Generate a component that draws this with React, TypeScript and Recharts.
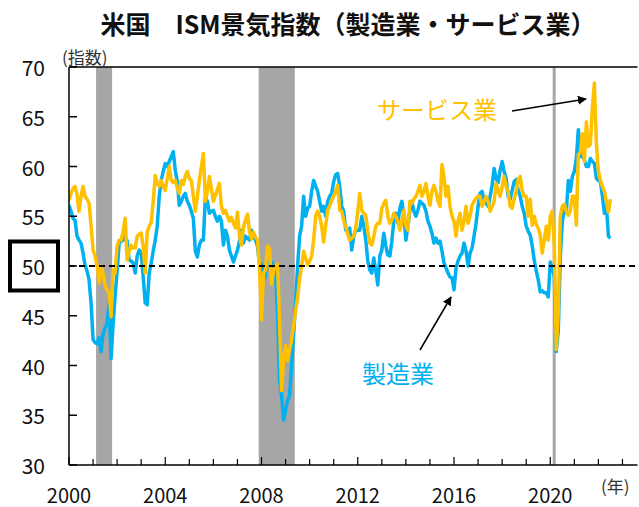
import React from "react";
import {
  LineChart, Line, XAxis, YAxis, ReferenceArea, ReferenceLine,
} from "recharts";

// Monthly index values, Jan 2000 .. Jul 2022 (one row per year)
const manufacturing = [
  56.1, 55.5, 54.8, 54.6, 53.0, 52.6, 52.3, 51.3, 50.1, 49.5, 48.6, 46.3,
  42.6, 42.3, 42.2, 42.8, 41.4, 43.2, 43.8, 44.2, 46.2, 40.7, 44.2, 47.0,
  49.5, 52.3, 52.5, 52.6, 53.0, 52.5, 50.6, 50.5, 50.3, 49.3, 51.0, 51.6,
  51.3, 48.9, 46.3, 46.1, 49.3, 50.3, 51.5, 52.6, 54.0, 57.0, 58.6, 59.5,
  60.3, 60.0, 60.5, 61.0, 61.5, 59.6, 58.5, 56.1, 56.5, 57.0, 57.3, 56.5,
  56.1, 55.5, 54.8, 51.5, 50.9, 52.1, 52.6, 52.6, 56.9, 56.5, 55.3, 55.5,
  55.6, 55.0, 54.5, 55.0, 54.5, 52.1, 53.6, 53.0, 51.6, 51.0, 50.4, 51.0,
  51.6, 52.5, 53.6, 52.3, 53.0, 52.8, 52.6, 53.6, 53.0, 52.6, 52.0, 50.2,
  50.2, 48.6, 49.0, 50.8, 50.5, 50.4, 50.0, 49.5, 45.2, 38.5, 37.0, 34.5,
  35.5, 36.5, 37.0, 40.0, 43.0, 46.3, 50.0, 53.0, 54.0, 57.0, 55.0, 55.8,
  56.0, 57.5, 58.6, 58.0, 57.5, 56.5, 55.5, 56.0, 55.0, 56.5, 57.0, 57.3,
  58.5, 59.2, 59.3, 58.0, 56.0, 55.5, 53.6, 53.5, 53.8, 51.6, 53.0, 53.6,
  53.6, 53.6, 55.0, 54.0, 52.6, 50.5, 49.6, 49.3, 50.8, 49.5, 48.1, 51.0,
  51.6, 53.3, 52.0, 51.1, 51.0, 52.5, 54.6, 55.3, 54.3, 55.8, 56.5, 55.0,
  52.6, 54.0, 55.6, 56.5, 55.5, 55.0, 55.6, 56.5, 56.3, 56.1, 55.5, 54.5,
  54.0, 53.3, 52.3, 52.8, 52.3, 52.5, 51.5, 50.3, 49.8, 49.3, 48.9, 48.8,
  47.6, 49.8, 50.5, 51.0, 51.3, 52.3, 51.5, 50.0, 51.3, 51.8, 53.0, 54.3,
  56.0, 57.3, 57.5, 56.6, 56.3, 56.0, 57.0, 58.1, 59.8, 58.8, 58.4, 59.6,
  60.5, 59.5, 58.8, 57.0, 56.7, 57.6, 58.5, 58.7, 57.6, 57.0, 56.0, 55.3,
  54.0, 53.5, 53.1, 52.0, 50.6, 49.5, 48.6, 47.4, 47.5, 47.3, 47.3, 46.9,
  50.4, 49.8, 49.0, 41.4, 43.5, 51.0, 54.5, 55.6, 55.4, 58.6, 57.5, 59.0,
  59.5, 60.8, 63.7, 61.0, 61.0, 60.7, 60.0, 60.0, 60.8, 60.5, 60.3, 58.8,
  58.6, 58.5, 57.0, 55.3, 56.0, 53.0, 52.8,
];

const services = [
  56.6, 57.3, 57.8, 58.0, 57.2, 55.5, 57.0, 58.0, 57.0, 56.7, 56.3, 54.0,
  51.6, 51.0, 50.0, 48.3, 50.0, 49.2, 48.0, 47.6, 47.4, 44.9, 49.6, 49.3,
  52.0, 52.6, 52.6, 53.5, 54.8, 50.6, 51.5, 52.1, 51.8, 51.8, 53.0, 53.2,
  53.3, 52.0, 49.3, 53.4, 54.0, 54.4, 56.5, 59.1, 58.3, 58.0, 58.6, 58.0,
  57.6, 58.8, 60.0, 58.6, 58.4, 58.6, 57.8, 57.3, 58.6, 58.2, 59.0, 59.5,
  58.8, 58.6, 57.0, 55.5, 57.0, 58.6, 60.0, 61.3, 56.5, 57.5, 59.0, 57.8,
  56.5, 57.1, 57.7, 58.3, 56.0, 55.3, 55.6, 55.0, 54.5, 54.9, 54.3, 53.8,
  55.4, 53.0, 52.1, 53.9, 54.6, 55.2, 53.5, 52.7, 53.4, 52.9, 52.6, 49.9,
  44.6, 49.3, 49.6, 52.0, 51.7, 48.2, 49.5, 50.0, 50.2, 44.4, 37.5, 40.6,
  42.0, 40.5, 41.6, 42.5, 44.0, 45.5, 46.8, 48.7, 50.0, 51.5, 50.8, 50.1,
  50.5, 51.0, 52.6, 55.0, 55.5, 55.0, 54.0, 52.4, 54.0, 55.6, 56.0, 56.6,
  57.0, 57.5, 58.1, 55.6, 55.5, 54.5, 54.0, 53.2, 52.6, 52.8, 53.0, 53.8,
  55.5, 57.3, 55.6, 55.3, 55.1, 53.5, 52.3, 52.1, 53.0, 54.0, 54.3, 54.3,
  55.8, 56.3, 56.6, 55.0, 54.3, 54.6, 55.3, 55.0, 54.5, 53.6, 54.5, 55.6,
  54.0, 53.6, 56.5, 56.3, 56.7, 57.0, 57.5, 58.1, 57.0, 57.5, 58.3, 57.0,
  56.1, 57.5, 58.1, 57.5, 56.5, 56.0, 60.2, 59.0, 57.0, 58.0, 56.0, 55.0,
  54.5, 53.0, 54.5, 55.3, 53.6, 54.5, 56.0, 54.3, 55.0, 56.1, 56.5, 56.8,
  57.0, 57.0, 56.0, 56.5, 57.0, 56.5, 55.5, 56.0, 56.5, 58.3, 57.5, 57.0,
  58.0, 59.0, 58.0, 57.5, 56.0, 55.8, 56.7, 57.5, 58.7, 59.0, 57.6, 57.0,
  57.0, 55.0, 56.7, 54.1, 55.0, 54.2, 53.8, 53.1, 51.3, 52.6, 54.0, 52.6,
  55.0, 55.5, 52.0, 41.6, 45.4, 55.0, 56.0, 56.2, 55.5, 55.1, 55.6, 57.0,
  57.0, 54.1, 61.2, 61.4, 63.3, 60.5, 64.5, 62.0, 62.2, 66.0, 68.4, 62.3,
  59.5, 58.6, 58.0, 57.5, 56.5, 55.4, 56.7,
];

const START_YEAR = 2000;
// x is months since Jan 2000
const yearTicks = Array.from({ length: 24 }, (_, i) => i * 12);
const yTicks = [30, 35, 40, 45, 50, 55, 60, 65, 70];
// recession shading, in months since Jan 2000
const recessions = [
  [13.5, 21.5],
  [94.6, 112.6],
  [241.2, 242.7],
];

const X_MAX = 283.5;
const AXIS_X = 69;
const AXIS_Y = 465;
const FONT = '"Noto Sans CJK JP", "Noto Sans", sans-serif';
const MFG = "#00B0F0";
const SVC = "#FFC000";

const data = manufacturing.map((v, i) => ({ m: i, mfg: v, svc: services[i] }));

function YTick({ y, payload }: any) {
  return (
    <g>
      <line x1={AXIS_X} x2={AXIS_X + 8} y1={y} y2={y} stroke="#000" strokeWidth={1.5} />
      <text x={45} y={y} textAnchor="end" dominantBaseline="central" fontSize={21} fill="#111" fontFamily={FONT}>
        {payload.value}
      </text>
      {payload.value === 50 && (
        <rect x={10} y={y - 24.5} width={48} height={49} fill="none" stroke="#000" strokeWidth={4} />
      )}
    </g>
  );
}

function XTick({ x, payload }: any) {
  const major = payload.value % 48 === 0;
  return (
    <g>
      <line x1={x} x2={x} y1={AXIS_Y} y2={AXIS_Y - (major ? 8 : 6)} stroke="#000" strokeWidth={1.2} />
      {major && (
        <text x={x} y={494} textAnchor="middle" dominantBaseline="central" fontSize={20} fill="#111" fontFamily={FONT}>
          {START_YEAR + payload.value / 12}
        </text>
      )}
    </g>
  );
}

export default function App() {
  return (
    <div style={{ position: "absolute", left: 0, top: 0, width: 639, height: 507, background: "#fff", fontFamily: FONT }}>
      <LineChart width={639} height={507} data={data} margin={{ top: 67, right: 1.5, left: 0, bottom: 0 }}>
        <XAxis
          type="number" dataKey="m" domain={[0, X_MAX]} ticks={yearTicks} interval={0} height={42}
          axisLine={{ stroke: "#000", strokeWidth: 1.5 }} tickLine={false} tick={<XTick />} allowDataOverflow
        />
        <YAxis
          type="number" domain={[30, 70]} ticks={yTicks} interval={0} width={AXIS_X}
          axisLine={{ stroke: "#000", strokeWidth: 1.5 }} tickLine={false} tick={<YTick />}
        />
        {recessions.map(([a, b], i) => (
          <ReferenceArea key={i} x1={a} x2={b} y1={30} y2={70} fill="#A6A6A6" fillOpacity={1} stroke="none" />
        ))}
        <ReferenceLine y={70} stroke="#000" strokeWidth={1.5} />
        <Line dataKey="mfg" stroke={MFG} strokeWidth={3.5} dot={false} isAnimationActive={false} strokeLinejoin="round" />
        <Line dataKey="svc" stroke={SVC} strokeWidth={3.5} dot={false} isAnimationActive={false} strokeLinejoin="round" />
        <ReferenceLine y={50} stroke="#000" strokeWidth={2} strokeDasharray="6 4" />
      </LineChart>

      <svg width={639} height={507} style={{ position: "absolute", left: 0, top: 0, pointerEvents: "none" }}>
        <defs>
          <marker id="ah" viewBox="0 0 10 10" refX="9" refY="5" markerWidth="9" markerHeight="9" markerUnits="userSpaceOnUse" orient="auto">
            <path d="M0,0 L10,5 L0,10 z" fill="#000" />
          </marker>
        </defs>
        <text x={348} y={23} textAnchor="middle" dominantBaseline="central" fontSize={25} fontWeight={600} fill="#111" fontFamily={FONT}>
          米国　ISM景気指数（製造業・サービス業）
        </text>
        <text x={62} y={56} dominantBaseline="central" fontSize={17} fill="#333" fontFamily={FONT}>(指数)</text>
        <text x={601} y={485} dominantBaseline="central" fontSize={17} fill="#333" fontFamily={FONT}>(年)</text>
        <text x={377} y={108} dominantBaseline="central" fontSize={24} fill={SVC} fontFamily={FONT}>サービス業</text>
        <line x1={512} y1={111} x2={586} y2={99} stroke="#000" strokeWidth={1.5} markerEnd="url(#ah)" />
        <text x={362} y={372} dominantBaseline="central" fontSize={24} fill={MFG} fontFamily={FONT}>製造業</text>
        <line x1={420} y1={350} x2={451} y2={297} stroke="#000" strokeWidth={1.5} markerEnd="url(#ah)" />
      </svg>
    </div>
  );
}
